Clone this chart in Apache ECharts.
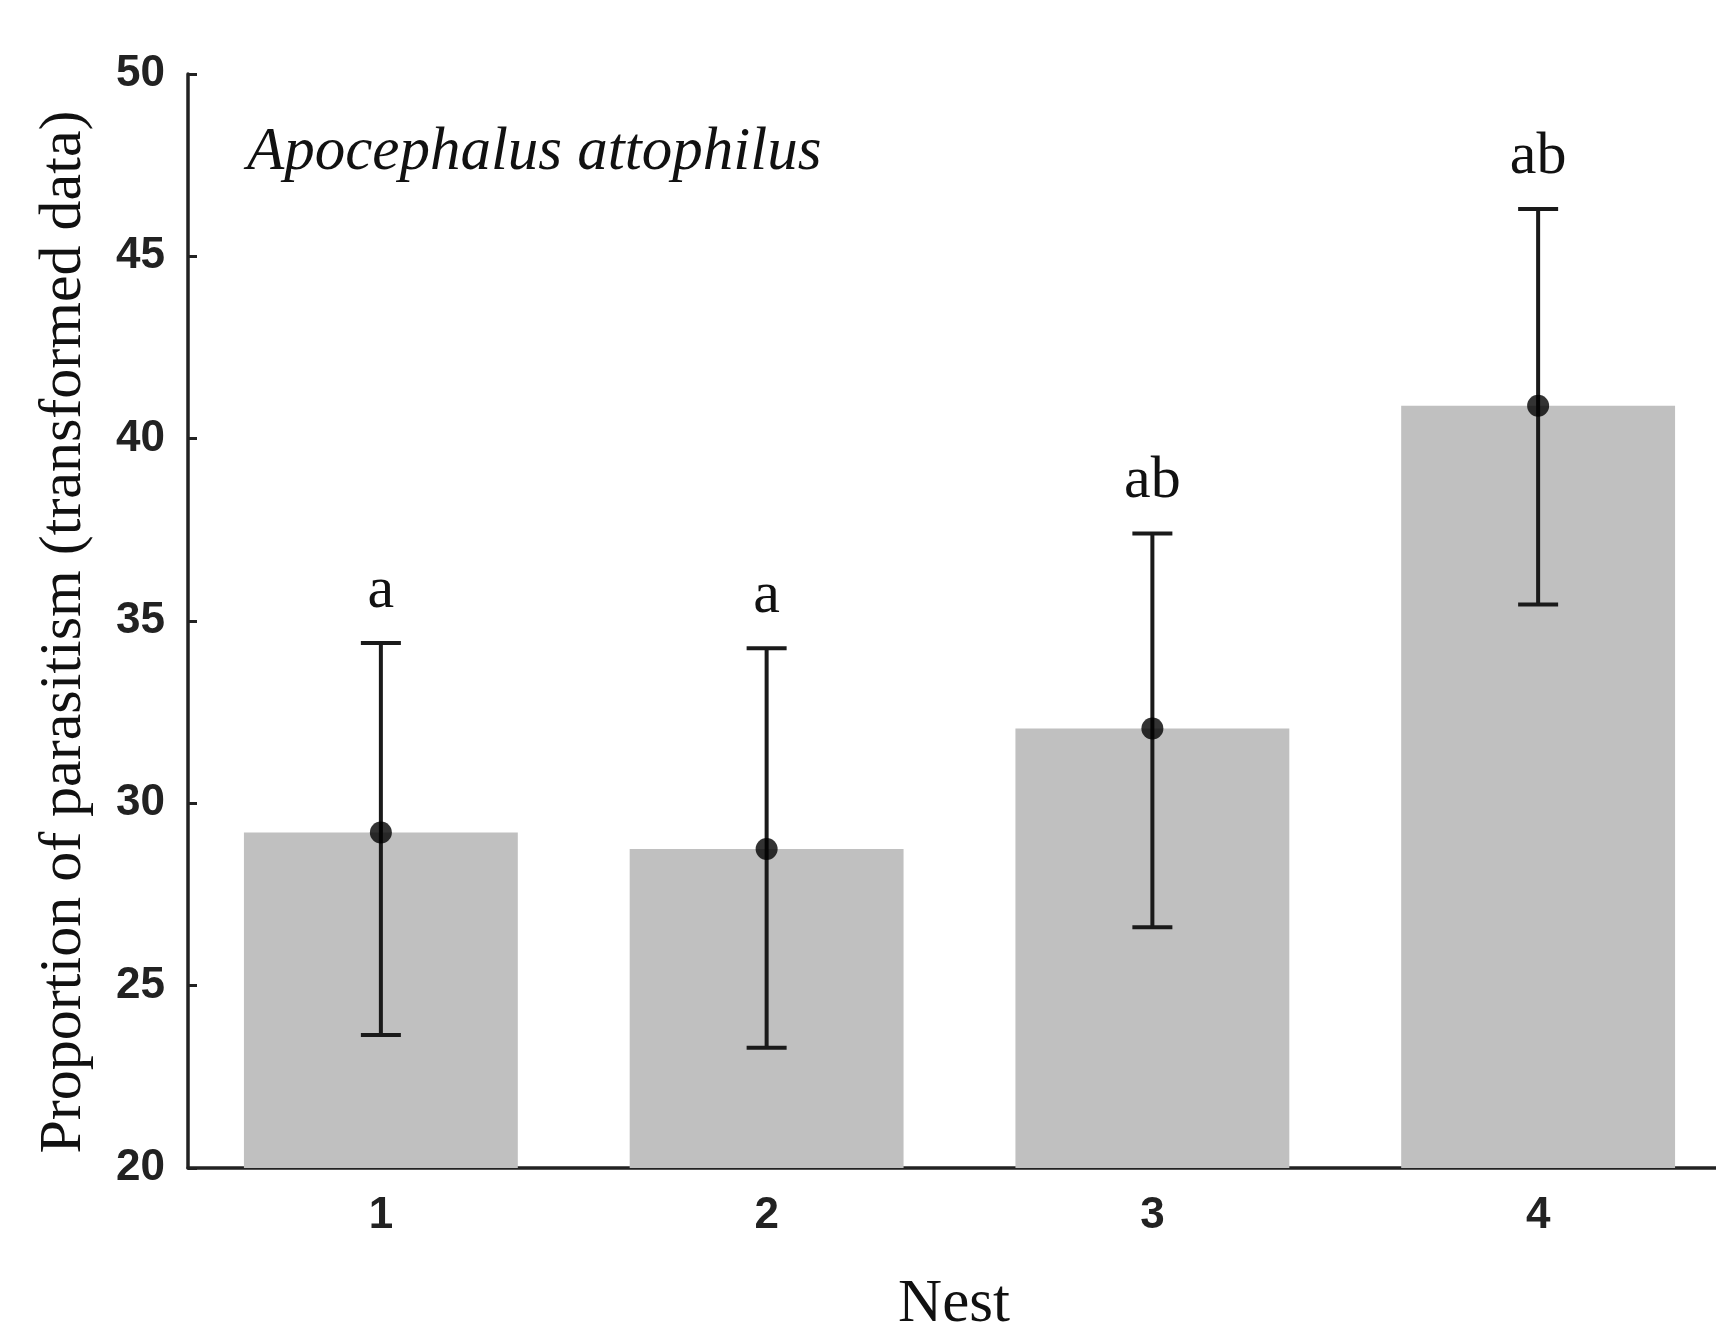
<!DOCTYPE html>
<html>
<head>
<meta charset="utf-8">
<style>
html,body{margin:0;padding:0;background:#fff;}
#chart{width:1716px;height:1323px;}
</style>
<script src="https://cdn.jsdelivr.net/npm/echarts@6/dist/echarts.min.js"></script>
</head>
<body>
<div id="chart"></div>
<script>
const categories = ['1', '2', '3', '4'];
const means = [29.2, 28.75, 32.05, 40.9];
const upper = [34.4, 34.25, 37.4, 46.3];
const lower = [23.65, 23.3, 26.6, 35.45];
const letters = ['a', 'a', 'ab', 'ab'];
const yTicks = [20, 25, 30, 35, 40, 45, 50];

const chart = echarts.init(document.getElementById('chart'));
const serif = '"Liberation Serif", "DejaVu Serif", serif';
const tickFont = '"Liberation Sans", Arial, sans-serif';

const errData = categories.map((c, i) => [i, lower[i], upper[i], letters[i]]);

chart.setOption({
  animation: false,
  backgroundColor: '#ffffff',
  grid: { left: 188, right: -15, top: 74, bottom: 155, containLabel: false, outerBoundsMode: 'none' },
  graphic: [
    {
      type: 'text', left: 247, top: 122,
      style: { text: 'Apocephalus attophilus', font: 'italic 61px ' + serif, fill: '#111' }
    },
    {
      type: 'text', x: 64, y: 632, rotation: Math.PI / 2,
      style: { text: 'Proportion of parasitism (transformed data)', font: '60px ' + serif, fill: '#111',
               align: 'center', verticalAlign: 'middle' }
    },
    {
      type: 'text', x: 954, y: 1305,
      style: { text: 'Nest', font: '61px ' + serif, fill: '#111', align: 'center', verticalAlign: 'middle' }
    }
  ],
  xAxis: {
    type: 'category', data: categories,
    axisLine: { lineStyle: { color: '#222', width: 3.5 } },
    axisTick: { show: true, inside: true, alignWithLabel: true, length: 7, lineStyle: { color: '#222', width: 3 } },
    axisLabel: { margin: 26, fontFamily: tickFont, fontWeight: 'bold', fontSize: 44, color: '#222' }
  },
  yAxis: {
    type: 'value', min: yTicks[0], max: yTicks[yTicks.length - 1], interval: 5,
    splitLine: { show: false },
    axisLine: { show: true, lineStyle: { color: '#222', width: 3.5 } },
    axisTick: { show: true, inside: true, length: 9, lineStyle: { color: '#222', width: 3 } },
    axisLabel: { margin: 23, fontFamily: tickFont, fontWeight: 'bold', fontSize: 44, color: '#222' }
  },
  series: [
    {
      type: 'bar', data: means, barWidth: '71%',
      itemStyle: { color: '#c0c0c0' }, z: 1
    },
    {
      type: 'custom', data: errData, z: 3,
      renderItem: function (params, api) {
        const i = api.value(0);
        const lo = api.coord([i, api.value(1)]);
        const hi = api.coord([i, api.value(2)]);
        const hw = 20;
        const ls = { stroke: '#1a1a1a', lineWidth: 4 };
        return {
          type: 'group',
          children: [
            { type: 'line', shape: { x1: hi[0], y1: hi[1], x2: lo[0], y2: lo[1] }, style: ls },
            { type: 'line', shape: { x1: hi[0] - hw, y1: hi[1], x2: hi[0] + hw, y2: hi[1] }, style: ls },
            { type: 'line', shape: { x1: lo[0] - hw, y1: lo[1], x2: lo[0] + hw, y2: lo[1] }, style: ls },
            { type: 'text', x: hi[0], y: hi[1] - 22,
              style: { text: letters[i], font: '60px ' + serif, fill: '#111', align: 'center', verticalAlign: 'bottom' } }
          ]
        };
      }
    },
    {
      type: 'scatter', data: means, symbol: 'circle', symbolSize: 22,
      itemStyle: { color: '#000' }, z: 4
    }
  ]
});
</script>
</body>
</html>
